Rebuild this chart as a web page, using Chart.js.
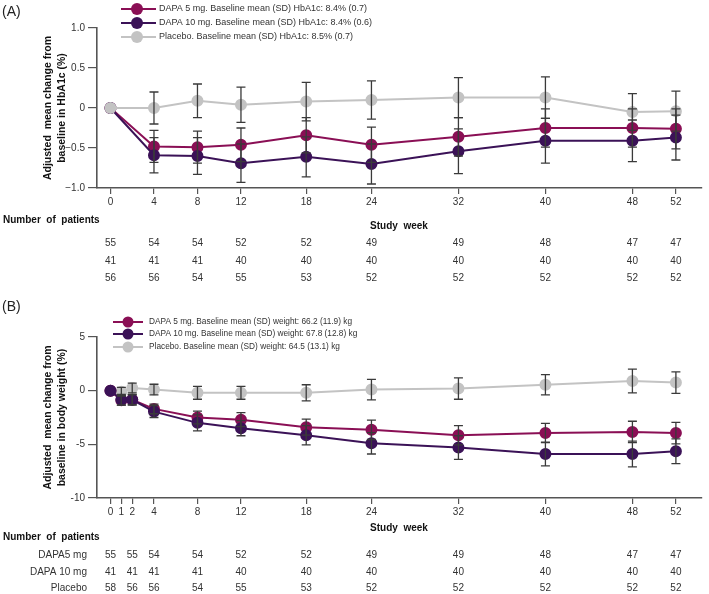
<!DOCTYPE html>
<html>
<head>
<meta charset="utf-8">
<script src="https://cdn.jsdelivr.net/npm/chart.js@4.4.1/dist/chart.umd.min.js"></script>
<style>
  body { margin: 0; background: #fff; }
  #wrapA { position: absolute; left: 0; top: 0; width: 709px; height: 300px; }
  #wrapB { position: absolute; left: 0; top: 300px; width: 709px; height: 294px; }
</style>
</head>
<body>
<div id="wrapA"><canvas id="chartA"></canvas></div>
<div id="wrapB"><canvas id="chartB"></canvas></div>
<script>
// ---- panel A: HbA1c ----
const weeksA = [0, 4, 8, 12, 18, 24, 32, 40, 48, 52];
const hba1cDapa5 = [0, -0.48, -0.49, -0.46, -0.34, -0.46, -0.36, -0.25, -0.25, -0.26];
const hba1cDapa5Err = [0, 0.2, 0.2, 0.21, 0.22, 0.22, 0.24, 0.24, 0.24, 0.25];
const hba1cDapa10 = [0, -0.59, -0.6, -0.69, -0.61, -0.7, -0.54, -0.41, -0.41, -0.37];
const hba1cDapa10Err = [0, 0.22, 0.23, 0.24, 0.25, 0.25, 0.28, 0.28, 0.26, 0.28];
const hba1cPlacebo = [0, 0, 0.09, 0.04, 0.08, 0.1, 0.13, 0.13, -0.05, -0.04];
const hba1cPlaceboErr = [0, 0.2, 0.21, 0.22, 0.24, 0.24, 0.25, 0.26, 0.23, 0.25];
const patientsA5 = [55, 54, 54, 52, 52, 49, 49, 48, 47, 47];
const patientsA10 = [41, 41, 41, 40, 40, 40, 40, 40, 40, 40];
const patientsAP = [56, 56, 54, 55, 53, 52, 52, 52, 52, 52];
const ticksA = [-1, -0.5, 0, 0.5, 1];

// ---- panel B: body weight ----
const weeksB = [0, 1, 2, 4, 8, 12, 18, 24, 32, 40, 48, 52];
const wtDapa5 = [0, -0.9, -0.85, -1.7, -2.5, -2.7, -3.4, -3.65, -4.15, -3.95, -3.85, -3.95];
const wtDapa5Err = [0, 0.45, 0.45, 0.45, 0.6, 0.65, 0.75, 0.9, 0.9, 0.9, 1.0, 1.0];
const wtDapa10 = [0, -0.85, -0.85, -1.95, -3.0, -3.5, -4.15, -4.9, -5.3, -5.9, -5.9, -5.65];
const wtDapa10Err = [0, 0.5, 0.5, 0.55, 0.75, 0.7, 0.9, 1.0, 1.1, 1.1, 1.2, 1.15];
const wtPlacebo = [0, -0.1, 0.25, 0.1, -0.2, -0.2, -0.2, 0.1, 0.2, 0.55, 0.9, 0.75];
const wtPlaceboErr = [0, 0.4, 0.45, 0.5, 0.6, 0.6, 0.75, 0.95, 1.0, 0.95, 1.1, 1.0];
const tableWeeksB = [0, 2, 4, 8, 12, 18, 24, 32, 40, 48, 52];
const patientsB5 = [55, 55, 54, 54, 52, 52, 49, 49, 48, 47, 47];
const patientsB10 = [41, 41, 41, 41, 40, 40, 40, 40, 40, 40, 40];
const patientsBP = [58, 56, 56, 54, 55, 53, 52, 52, 52, 52, 52];
const ticksB = [-10, -5, 0, 5];

const C5 = '#8a0f55', C10 = '#3b1257', CP = '#c3c3c3', ERR = '#3a3a3a', AXIS = '#555';
const FONT = "Arial, 'Liberation Sans', sans-serif";

function pts(xs, ys) { return xs.map((x, i) => ({ x: x, y: ys[i] })); }

function series(label, color, xs, ys, errs, order) {
    return {
        label: label, data: pts(xs, ys), errors: errs,
        borderColor: color, backgroundColor: color,
        pointBackgroundColor: color, pointBorderColor: color,
        borderWidth: 2, pointRadius: 5, pointHoverRadius: 5,
        tension: 0, order: order
    };
}

// vertical error bars with caps
const errorBars = {
    id: 'errorBars',
    afterDatasetsDraw(chart) {
        const { ctx, scales: { x, y } } = chart;
        ctx.save();
        ctx.strokeStyle = ERR;
        ctx.lineWidth = 1.3;
        chart.data.datasets.forEach(ds => {
            ds.data.forEach((p, i) => {
                const e = ds.errors[i];
                if (!e) return;
                const px = x.getPixelForValue(p.x);
                const t = y.getPixelForValue(p.y + e), b = y.getPixelForValue(p.y - e);
                ctx.beginPath();
                ctx.moveTo(px, t); ctx.lineTo(px, b);
                ctx.moveTo(px - 4.5, t); ctx.lineTo(px + 4.5, t);
                ctx.moveTo(px - 4.5, b); ctx.lineTo(px + 4.5, b);
                ctx.stroke();
            });
        });
        ctx.restore();
    }
};

// panel letter, legend, patient table
function extras(o) {
    return {
        id: 'extras',
        afterDraw(chart) {
            const { ctx, scales: { x } } = chart;
            ctx.save();
            ctx.fillStyle = '#222';
            ctx.textBaseline = 'middle';
            ctx.font = '14px ' + FONT;
            ctx.textAlign = 'left';
            ctx.fillText(o.panel, 2, o.panelY);

            // legend
            chart.data.datasets.forEach((ds, i) => {
                const ly = o.legY[i];
                ctx.strokeStyle = ds.borderColor;
                ctx.lineWidth = 2;
                ctx.beginPath();
                ctx.moveTo(o.legX0, ly); ctx.lineTo(o.legX1, ly);
                ctx.stroke();
                ctx.fillStyle = ds.borderColor;
                ctx.beginPath();
                ctx.arc(o.legM, ly, o.legR, 0, Math.PI * 2);
                ctx.fill();
                ctx.fillStyle = '#333';
                ctx.font = o.legFont;
                ctx.textAlign = 'left';
                ctx.fillText(ds.label, o.legT, ly);
            });

            // axis title and table
            ctx.fillStyle = '#111';
            ctx.font = 'bold 10px ' + FONT;
            ctx.textAlign = 'center';
            ctx.fillText('Study  week', 399, o.studyY);
            ctx.textAlign = 'left';
            ctx.fillText('Number  of  patients', 3, o.numY);

            ctx.font = '10px ' + FONT;
            ctx.fillStyle = '#333';
            o.rows.forEach((r, j) => {
                if (r.label) {
                    ctx.textAlign = 'right';
                    ctx.fillText(r.label, 87, o.rowY[j]);
                }
                ctx.textAlign = 'center';
                r.values.forEach((v, k) => {
                    ctx.fillText(String(v), x.getPixelForValue(o.tableWeeks[k]), o.rowY[j]);
                });
            });
            ctx.restore();
        }
    };
}

function axes(yMin, yMax, yTicks, yFmt, title, weeks, xHeight) {
    const tickFont = { family: FONT, size: 10 };
    return {
        x: {
            type: 'linear', min: -1.24, max: 54.4,
            afterBuildTicks: s => { s.ticks = weeks.map(v => ({ value: v })); },
            afterFit: s => { s.height = xHeight; },
            ticks: { autoSkip: false, maxRotation: 0, padding: 2, color: '#333', font: tickFont,
                     callback: v => String(v) },
            grid: { drawOnChartArea: false, drawTicks: true, tickLength: 6, color: AXIS, lineWidth: 1.2 },
            border: { color: AXIS, width: 1.6 }
        },
        y: {
            min: yMin, max: yMax,
            afterBuildTicks: s => { s.ticks = yTicks.map(v => ({ value: v })); },
            afterFit: s => { s.width = 97; },
            ticks: { padding: 3, color: '#333', font: tickFont, callback: yFmt },
            grid: { drawOnChartArea: false, drawTicks: true, tickLength: 9, color: AXIS, lineWidth: 1.2 },
            border: { color: AXIS, width: 1.6 },
            title: { display: true, text: title, color: '#111',
                     font: { family: FONT, size: 10.5, weight: 'bold', lineHeight: 1.25 },
                     padding: { top: 42, bottom: 0 } }
        }
    };
}

new Chart(document.getElementById('chartA'), {
    type: 'line',
    data: {
        datasets: [
            series('DAPA 5 mg. Baseline mean (SD) HbA1c: 8.4% (0.7)', C5, weeksA, hba1cDapa5, hba1cDapa5Err, 2),
            series('DAPA 10 mg. Baseline mean (SD) HbA1c: 8.4% (0.6)', C10, weeksA, hba1cDapa10, hba1cDapa10Err, 1),
            series('Placebo. Baseline mean (SD) HbA1c: 8.5% (0.7)', CP, weeksA, hba1cPlacebo, hba1cPlaceboErr, 0)
        ]
    },
    options: {
        responsive: true, maintainAspectRatio: false, animation: false,
        layout: { padding: { top: 28, left: 0, right: 3, bottom: 0 } },
        plugins: { legend: { display: false }, tooltip: { enabled: false } },
        scales: axes(-1, 1, ticksA, v => v === 0 ? '0' : (v < 0 ? '\u2212' : '') + Math.abs(v).toFixed(1),
                     ['Adjusted  mean change from', 'baseline in HbA1c (%)'], weeksA, 112)
    },
    plugins: [errorBars, extras({
        panel: '(A)', panelY: 12,
        legY: [9, 23, 37], legX0: 121, legX1: 156, legM: 137, legR: 6, legT: 159,
        legFont: '9px ' + FONT,
        studyY: 226, numY: 220, rowY: [243, 261, 278], tableWeeks: weeksA,
        rows: [{ values: patientsA5 }, { values: patientsA10 }, { values: patientsAP }]
    })]
});

new Chart(document.getElementById('chartB'), {
    type: 'line',
    data: {
        datasets: [
            series('DAPA 5 mg. Baseline mean (SD) weight: 66.2 (11.9) kg', C5, weeksB, wtDapa5, wtDapa5Err, 1),
            series('DAPA 10 mg. Baseline mean (SD) weight: 67.8 (12.8) kg', C10, weeksB, wtDapa10, wtDapa10Err, 0),
            series('Placebo. Baseline mean (SD) weight: 64.5 (13.1) kg', CP, weeksB, wtPlacebo, wtPlaceboErr, 2)
        ]
    },
    options: {
        responsive: true, maintainAspectRatio: false, animation: false,
        layout: { padding: { top: 37, left: 0, right: 3, bottom: 0 } },
        plugins: { legend: { display: false }, tooltip: { enabled: false } },
        scales: axes(-10, 5, ticksB, v => String(v),
                     ['Adjusted  mean change from', 'baseline in body weight (%)'], weeksB, 96)
    },
    plugins: [errorBars, extras({
        panel: '(B)', panelY: 7,
        legY: [22, 34, 47], legX0: 113, legX1: 143, legM: 128, legR: 5.5, legT: 149,
        legFont: '8.3px ' + FONT,
        studyY: 228, numY: 237, rowY: [255, 272, 288], tableWeeks: tableWeeksB,
        rows: [{ label: 'DAPA5 mg', values: patientsB5 },
               { label: 'DAPA 10 mg', values: patientsB10 },
               { label: 'Placebo', values: patientsBP }]
    })]
});
</script>
</body>
</html>
